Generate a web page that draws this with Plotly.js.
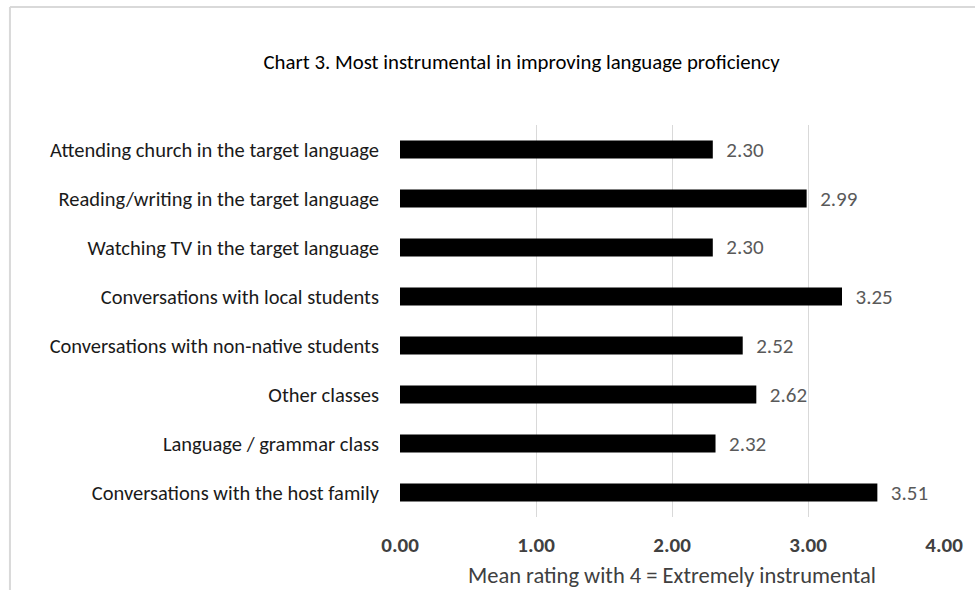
<!DOCTYPE html>
<html><head><meta charset="utf-8">
<script src="https://cdn.plot.ly/plotly-3.0.1.min.js"></script>
<style>html,body{margin:0;padding:0;background:#fff;}</style>
</head><body>
<div id="chart" style="width:975px;height:590px;"></div>
<script>
const categories = [
  "Conversations with the host family",
  "Language / grammar class",
  "Other classes",
  "Conversations with non-native students",
  "Conversations with local students",
  "Watching TV in the target language",
  "Reading/writing in the target language",
  "Attending church in the target language"
];
const values = [3.51, 2.32, 2.62, 2.52, 3.25, 2.30, 2.99, 2.30];
const tickVals = [0, 1, 2, 3, 4];
const tickLabels = ["0.00", "1.00", "2.00", "3.00", "4.00"];

const font = "Carlito, 'Liberation Sans Narrow', 'Open Sans', sans-serif";

const trace = {
  type: 'bar', orientation: 'h',
  y: categories, x: values,
  marker: {color: '#000000', line: {color: '#000000', width: 0}},
  width: 0.37,
  texttemplate: '\u2002%{x:.2f}',
  textposition: 'outside',
  constraintext: 'none',
  textfont: {family: font, size: 21, color: '#595959'},
  cliponaxis: false,
  hoverinfo: 'none'
};

const layout = {
  width: 975, height: 590,
  margin: {l: 400, r: 31, t: 125, b: 73, pad: 0},
  paper_bgcolor: '#ffffff', plot_bgcolor: '#ffffff',
  showlegend: false,
  title: {text: 'Chart 3. Most instrumental in improving language proficiency',
    font: {family: font, size: 20.8, color: '#000000'},
    x: 0.535, xanchor: 'center', y: 0.895, yanchor: 'middle'},
  xaxis: {
    range: [0, 4], tickvals: tickVals, ticktext: tickLabels,
    showgrid: true, gridcolor: '#d9d9d9', gridwidth: 1,
    zeroline: false, showline: false, ticks: '',
    ticklabelstandoff: 13,
    tickfont: {family: font, size: 21, color: '#404040', weight: 'bold'},
    title: {text: 'Mean rating with 4 = Extremely instrumental',
      font: {family: font, size: 22.5, color: '#404040'}, standoff: 10}
  },
  yaxis: {
    type: 'category', categoryorder: 'array', categoryarray: categories,
    showgrid: false, zeroline: false, showline: false, ticks: '',
    ticklabelstandoff: 20,
    tickfont: {family: font, size: 20.5, color: '#1a1a1a'}
  },
  shapes: [
    {type: 'line', xref: 'paper', yref: 'paper', x0: -0.717, x1: 1.1, y0: 1.301, y1: 1.301,
     line: {color: '#d9d9d9', width: 2}},
    {type: 'line', xref: 'paper', yref: 'paper', x0: -0.717, x1: -0.717, y0: 1.301, y1: -0.2,
     line: {color: '#d9d9d9', width: 2}}
  ]
};

Plotly.newPlot('chart', [trace], layout, {displayModeBar: false, staticPlot: true});
</script>
</body></html>
